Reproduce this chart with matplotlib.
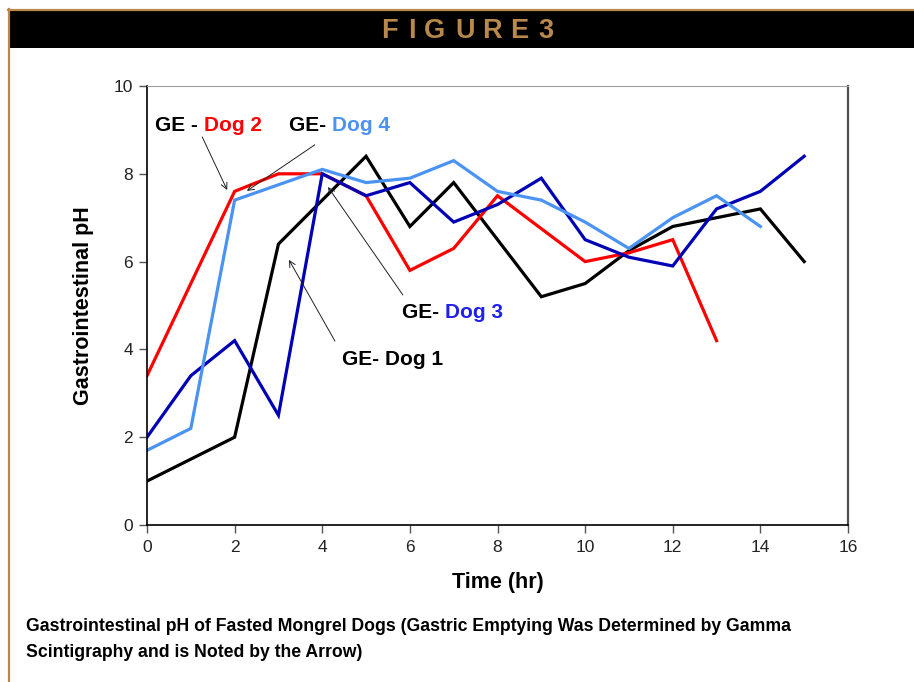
import matplotlib
matplotlib.use("Agg")
import matplotlib.pyplot as plt
from matplotlib.patches import Rectangle
from matplotlib.lines import Line2D

# gastrointestinal pH readings per dog, hourly
hours_1 = [0, 1, 2, 3, 4, 5, 6, 7, 8, 9, 10, 11, 12, 13, 14, 15]
dog1 = [1.0, 1.5, 2.0, 6.4, 7.4, 8.4, 6.8, 7.8, 6.5, 5.2, 5.5, 6.25, 6.8, 7.0, 7.2, 6.0]

hours_2 = [0, 1, 2, 3, 4, 5, 6, 7, 8, 9, 10, 11, 12, 13]
dog2 = [3.4, 5.5, 7.6, 8.0, 8.0, 7.5, 5.8, 6.3, 7.5, 6.75, 6.0, 6.2, 6.5, 4.2]

hours_3 = [0, 1, 2, 3, 4, 5, 6, 7, 8, 9, 10, 11, 12, 13, 14, 15]
dog3 = [2.0, 3.4, 4.2, 2.5, 8.0, 7.5, 7.8, 6.9, 7.3, 7.9, 6.5, 6.1, 5.9, 7.2, 7.6, 8.4]

hours_4 = [0, 1, 2, 3, 4, 5, 6, 7, 8, 9, 10, 11, 12, 13, 14]
dog4 = [1.7, 2.2, 7.4, 7.75, 8.1, 7.8, 7.9, 8.3, 7.6, 7.4, 6.9, 6.3, 7.0, 7.5, 6.8]

xticks = list(range(0, 17, 2))
yticks = list(range(0, 11, 2))

c_dog1 = '#000000'
c_dog2 = '#ff0000'
c_dog3 = '#0000b4'
c_dog4 = '#4a93f2'
tan = '#b8894a'

plt.rcParams['font.family'] = ['Liberation Sans', 'DejaVu Sans']

W, H = 914, 682
fig = plt.figure(figsize=(W / 100, H / 100), dpi=100)

# page frame: tan rules and black title band
fig.add_artist(Rectangle((10 / W, 1 - 48 / H), 1 - 10 / W, 37 / H, transform=fig.transFigure,
                         facecolor='black', edgecolor='none'))
fig.add_artist(Line2D([8 / W, 1], [1 - 10 / H, 1 - 10 / H], transform=fig.transFigure,
                      color=tan, lw=1.6))
fig.add_artist(Line2D([9 / W, 9 / W], [0, 1 - 9 / H], transform=fig.transFigure,
                      color=tan, lw=1.6))

# spaced-out heading, one letter at a time
for ch, px in zip('FIGURE3', [389, 412, 434, 465, 492, 519, 546]):
    fig.text(px / W, 1 - 31 / H, ch, color=tan, fontsize=19.5, fontweight='bold',
             ha='center', va='center')

ax = fig.add_axes([147 / W, 1 - 525 / H, (848 - 147) / W, (525 - 86) / H])

lw = 2.3
ax.plot(hours_1, dog1, color=c_dog1, lw=lw, solid_joinstyle='miter')
ax.plot(hours_2, dog2, color=c_dog2, lw=lw, solid_joinstyle='miter')
ax.plot(hours_3, dog3, color=c_dog3, lw=lw, solid_joinstyle='miter')
ax.plot(hours_4, dog4, color=c_dog4, lw=lw, solid_joinstyle='miter')

ax.set_xlim(0, 16)
ax.set_ylim(0, 10)
ax.set_xticks(xticks)
ax.set_yticks(yticks)
ax.tick_params(axis='both', direction='out', length=6, width=1, color='#555555',
               labelsize=12.5, labelcolor='#222222')
ax.tick_params(axis='x', pad=5)
ax.tick_params(axis='y', pad=4)

ax.spines['left'].set_color('black')
ax.spines['bottom'].set_color('black')
ax.spines['left'].set_linewidth(1.2)
ax.spines['bottom'].set_linewidth(1.2)
ax.spines['top'].set_color('#a0a0a0')
ax.spines['right'].set_color('#505050')
ax.spines['right'].set_linewidth(1.6)

ax.set_xlabel('Time (hr)', fontsize=15.5, fontweight='bold', labelpad=12)
ax.set_ylabel('Gastrointestinal pH', fontsize=15.5, fontweight='bold', labelpad=14)

# gastric emptying labels, two-colour text
def ge_label(x, y, prefix, name, color):
    t = ax.text(x, y, prefix, fontsize=15, fontweight='bold', color='black', va='center')
    ax.annotate(name, xy=(1, 0.5), xycoords=t, va='center', ha='left',
                fontsize=15, fontweight='bold', color=color)

ge_label(0.18, 9.1, 'GE - ', 'Dog 2', c_dog2)
ge_label(3.25, 9.1, 'GE- ', 'Dog 4', c_dog4)
ge_label(5.82, 4.83, 'GE- ', 'Dog 3', '#1f1fef')
ge_label(4.45, 3.76, 'GE- ', 'Dog 1', 'black')

arrow = dict(arrowstyle='->', color='#222222', lw=0.7, shrinkA=0, shrinkB=0,
             mutation_scale=11)
ax.annotate('', xy=(1.83, 7.63), xytext=(1.26, 8.84), arrowprops=arrow)
ax.annotate('', xy=(2.28, 7.61), xytext=(3.83, 8.66), arrowprops=arrow)
ax.annotate('', xy=(4.13, 7.70), xytext=(5.84, 5.24), arrowprops=arrow)
ax.annotate('', xy=(3.24, 6.04), xytext=(4.29, 4.19), arrowprops=arrow)

fig.text(26 / W, 1 - 618 / H,
         'Gastrointestinal pH of Fasted Mongrel Dogs (Gastric Emptying Was Determined by Gamma\n'
         'Scintigraphy and is Noted by the Arrow)',
         fontsize=12.7, fontweight='bold', ha='left', va='top', linespacing=1.7)

fig.savefig('out.png', dpi=100)
